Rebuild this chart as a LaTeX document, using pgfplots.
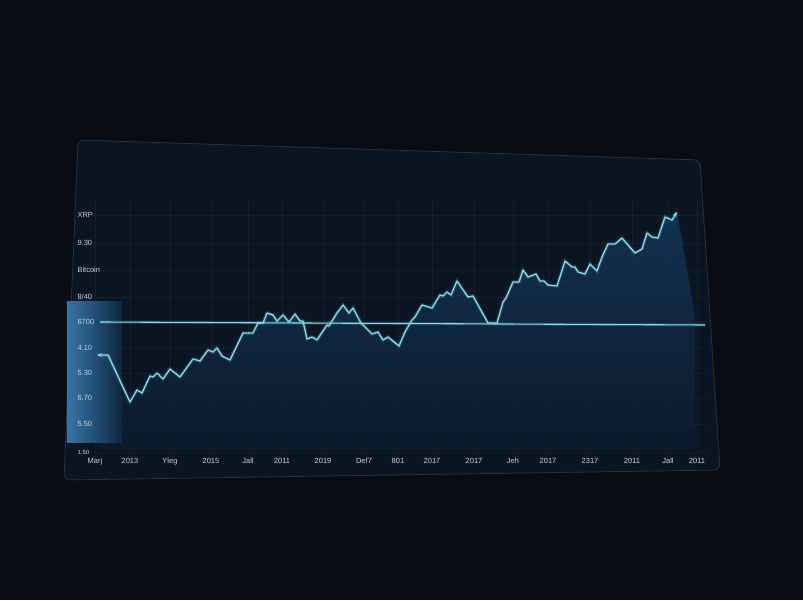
\documentclass[border=0pt]{standalone}
\usepackage{pgfplots}
\pgfplotsset{compat=1.18}
\usepackage{fontspec}
\setmainfont{Liberation Sans}
\usetikzlibrary{arrows.meta}
\definecolor{bg}{HTML}{0A0E14}
\definecolor{panel}{HTML}{0C1623}
\definecolor{paneledge}{HTML}{243244}
\definecolor{gridc}{HTML}{15202C}
\definecolor{cyanline}{HTML}{7FDDEA}
\definecolor{fillhi}{HTML}{143658}
\definecolor{filllo}{HTML}{0D1B2C}
\definecolor{glow}{HTML}{3674A6}
\definecolor{lab}{HTML}{C3CCD6}

\begin{document}
\begin{tikzpicture}
\begin{axis}[
  set layers,
  scale only axis,
  width=615pt, height=252pt,
  xmin=90, xmax=705,
  ymin=200, ymax=452,
  y dir=reverse,
  clip=false,
  axis line style={draw=none},
  major tick length=0pt,
  xtick={95,130,170,211,248,282,323,364,398,432,474,513,548,590,632,668,697},
  xticklabels={Marj,2013,Yleg,2015,Jall,2011,2019,Def7,801,2017,2017,Jeh,2017,2317,2011,Jall,2011},
  ytick={215,243,270,297,322,348,373,398,424,452},
  yticklabels={XRP,9.30,Bitcoin,8/40,6700,4.10,5.30,6.70,5.50,{\fontsize{6}{7}\selectfont 1.50}},
  xticklabel style={font=\fontsize{7.5}{8}\selectfont, text=lab, yshift=-2.5pt, /pgfplots/on layer=axis foreground},
  yticklabel style={font=\fontsize{7.5}{8}\selectfont, text=lab, anchor=west, xshift=-16pt, /pgfplots/on layer=axis foreground},
  grid=major,
  grid style={color=gridc, line width=0.5pt},
]
\begin{pgfonlayer}{axis background}
  \fill[bg] (axis cs:0,0) rectangle (axis cs:803,600);
  \fill[panel, draw=paneledge, line width=0.8pt, rounded corners=6pt]
    (axis cs:78,140) -- (700,160) -- (720,470) -- (64,480) -- cycle;
\end{pgfonlayer}

% area under the price line
\addplot[draw=none, top color=fillhi, bottom color=filllo, fill opacity=0.85] coordinates {
  (97,450) (97,355) (108,355) (130,402) (137,390) (142,393) (150,376) (153,377)
  (157,373) (163,379) (170,369) (180,377) (193,359) (200,361) (208,350) (213,352)
  (217,348) (222,356) (230,360) (243,333) (253,333) (258,323) (263,323) (267,313)
  (273,315) (277,321) (283,315) (289,322) (295,314) (300,321) (303,321) (307,339)
  (312,337) (317,340) (327,325) (329,326) (337,313) (343,305) (349,313) (353,308)
  (361,323) (372,334) (378,332) (383,340) (388,337) (399,346) (405,332) (412,320)
  (415,317) (422,305) (432,308) (440,295) (443,296) (447,292) (451,295) (457,281)
  (468,297) (473,296) (488,323) (497,323) (503,302) (506,298) (513,282) (519,282)
  (523,270) (528,277) (536,274) (540,281) (544,281) (548,285) (557,286) (565,261)
  (572,267) (575,267) (578,272) (585,274) (590,264) (597,271) (602,257) (608,244)
  (615,244) (622,238) (635,253) (642,249) (647,233) (652,237) (658,238) (665,217)
  (672,220) (677,212) (695,315) (695,450)
} -- cycle;

% left-edge glow
\shade[left color=glow, right color=fillhi!35!filllo, middle color=glow!40!fillhi]
  (axis cs:67,302) rectangle (axis cs:122,442);

% reference level
\addplot[cyanline, line width=3pt, opacity=0.18] coordinates {(100,322) (705,325)};
\addplot[cyanline, line width=1.1pt] coordinates {(100,322) (705,325)};

% price line (glow + line)
\addplot[cyanline, line width=3.5pt, opacity=0.18] coordinates {
  (97,355) (108,355) (130,402) (137,390) (142,393) (150,376) (153,377)
  (157,373) (163,379) (170,369) (180,377) (193,359) (200,361) (208,350) (213,352)
  (217,348) (222,356) (230,360) (243,333) (253,333) (258,323) (263,323) (267,313)
  (273,315) (277,321) (283,315) (289,322) (295,314) (300,321) (303,321) (307,339)
  (312,337) (317,340) (327,325) (329,326) (337,313) (343,305) (349,313) (353,308)
  (361,323) (372,334) (378,332) (383,340) (388,337) (399,346) (405,332) (412,320)
  (415,317) (422,305) (432,308) (440,295) (443,296) (447,292) (451,295) (457,281)
  (468,297) (473,296) (488,323) (497,323) (503,302) (506,298) (513,282) (519,282)
  (523,270) (528,277) (536,274) (540,281) (544,281) (548,285) (557,286) (565,261)
  (572,267) (575,267) (578,272) (585,274) (590,264) (597,271) (602,257) (608,244)
  (615,244) (622,238) (635,253) (642,249) (647,233) (652,237) (658,238) (665,217)
  (672,220) (677,212)
};
\addplot[cyanline, line width=1.3pt, line join=round, {Stealth[length=5pt]}-{Stealth[length=5pt]}] coordinates {
  (97,355) (108,355) (130,402) (137,390) (142,393) (150,376) (153,377)
  (157,373) (163,379) (170,369) (180,377) (193,359) (200,361) (208,350) (213,352)
  (217,348) (222,356) (230,360) (243,333) (253,333) (258,323) (263,323) (267,313)
  (273,315) (277,321) (283,315) (289,322) (295,314) (300,321) (303,321) (307,339)
  (312,337) (317,340) (327,325) (329,326) (337,313) (343,305) (349,313) (353,308)
  (361,323) (372,334) (378,332) (383,340) (388,337) (399,346) (405,332) (412,320)
  (415,317) (422,305) (432,308) (440,295) (443,296) (447,292) (451,295) (457,281)
  (468,297) (473,296) (488,323) (497,323) (503,302) (506,298) (513,282) (519,282)
  (523,270) (528,277) (536,274) (540,281) (544,281) (548,285) (557,286) (565,261)
  (572,267) (575,267) (578,272) (585,274) (590,264) (597,271) (602,257) (608,244)
  (615,244) (622,238) (635,253) (642,249) (647,233) (652,237) (658,238) (665,217)
  (672,220) (677,212)
};
\end{axis}
\end{tikzpicture}
\end{document}
